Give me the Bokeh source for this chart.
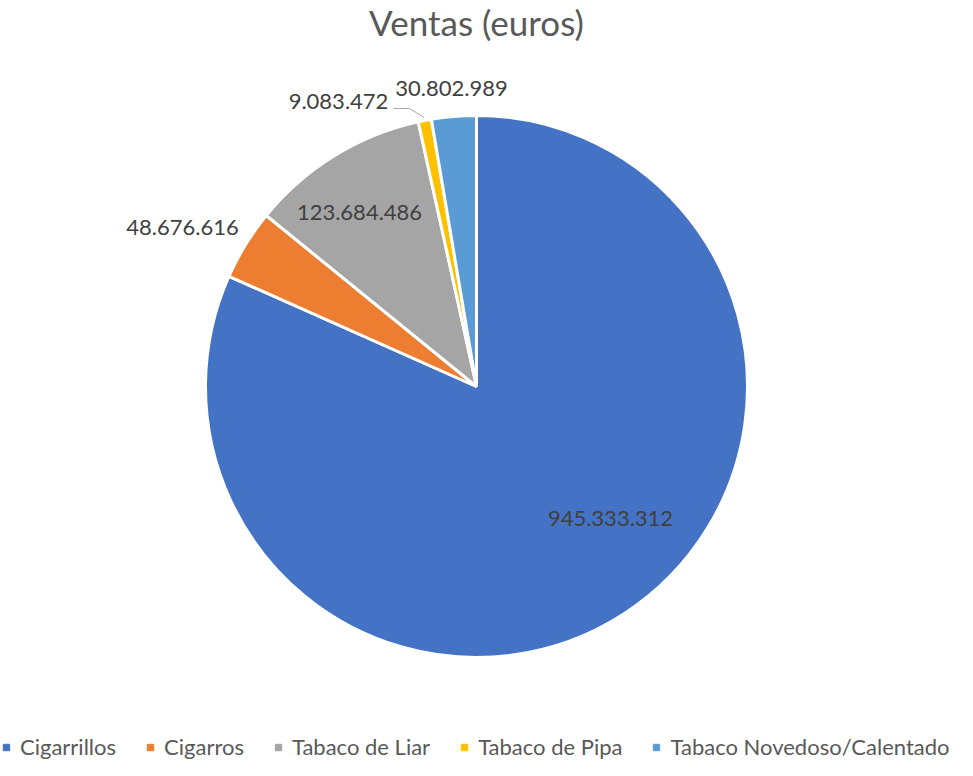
import math
from bokeh.plotting import figure
from bokeh.models import ColumnDataSource, Range1d, Label, Legend, LegendItem
from bokeh.core.properties import value
from bokeh.embed import file_html
from bokeh.resources import INLINE

# ---- data ----
categories = ["Cigarrillos", "Cigarros", "Tabaco de Liar", "Tabaco de Pipa", "Tabaco Novedoso/Calentado"]
ventas = [945333312, 48676616, 123684486, 9083472, 30802989]
colors = ["#4472C4", "#ED7D31", "#A5A5A5", "#FFC000", "#5B9BD5"]

# ---- layout (screen-like coordinates, y downward negated) ----
W, H = 957, 760
CX, CY, R = 484, -394, 271
# label anchor offsets relative to pie centre (px)
label_offsets = [(134, -132), (-294, 159), (-117, 174), (-138, 285), (-25, 298)]
FONT = "Lato"

total = sum(ventas)
starts, ends = [], []
acc = 0.0
for v in ventas:
    a0 = math.pi / 2 - 2 * math.pi * acc / total
    acc += v
    a1 = math.pi / 2 - 2 * math.pi * acc / total
    starts.append(a0)
    ends.append(a1)

src = ColumnDataSource(dict(cat=categories, val=ventas, color=colors,
                            start=starts, end=ends,
                            x=[CX] * len(ventas), y=[CY] * len(ventas)))

p = figure(width=W, height=H, output_backend="svg", toolbar_location=None,
           x_range=Range1d(8, 8 + W), y_range=Range1d(-8 - H, -8),
           min_border=0, outline_line_color=None)
p.axis.visible = False
p.grid.visible = False

p.wedge(x="x", y="y", radius=R, start_angle="start", end_angle="end",
        direction="clock", fill_color="color", line_color="white", line_width=3,
        source=src)

# data labels
fmt = lambda v: f"{v:,}".replace(",", ".")
lx = [CX + dx for dx, dy in label_offsets]
ly = [CY + dy for dx, dy in label_offsets]
lsrc = ColumnDataSource(dict(x=lx, y=ly, t=[fmt(v) for v in ventas]))
p.text(x="x", y="y", text="t", source=lsrc, text_align="center", text_baseline="middle",
       text_font=value(FONT), text_font_size="22px", text_color="#404040")

# leader line for Tabaco de Pipa
i = 3
mid = (starts[i] + ends[i]) / 2
ex, ey = CX + (R + 3) * math.cos(mid), CY + (R + 3) * math.sin(mid)
p.line(x=[lx[i] + 55, lx[i] + 71, ex], y=[ly[i] - 7, ly[i] - 7, ey],
       line_color="#A6A6A6", line_width=1)

# title
p.add_layout(Label(x=CX, y=-29, text="Ventas (euros)", text_align="center",
                   text_baseline="middle", text_font=FONT, text_font_size="35px",
                   text_color="#595959"))

# legend proxies
nan = float("nan")
lg = p.scatter(x="x", y="y", marker="square", color="color",
               source=ColumnDataSource(dict(x=[nan] * 5, y=[nan] * 5, color=colors)))
items = [LegendItem(label=c, renderers=[lg], index=k) for k, c in enumerate(categories)]
legend = Legend(items=items, orientation="horizontal", location=(-2, 0),
                label_text_font=FONT, label_text_font_size="22px", label_text_color="#595959",
                glyph_width=16, glyph_height=16, label_height=20, label_standoff=6,
                spacing=26, padding=0, margin=0, border_line_color=None,
                background_fill_alpha=0)
p.add_layout(legend)

open("out.html", "w").write(file_html(p, INLINE))
